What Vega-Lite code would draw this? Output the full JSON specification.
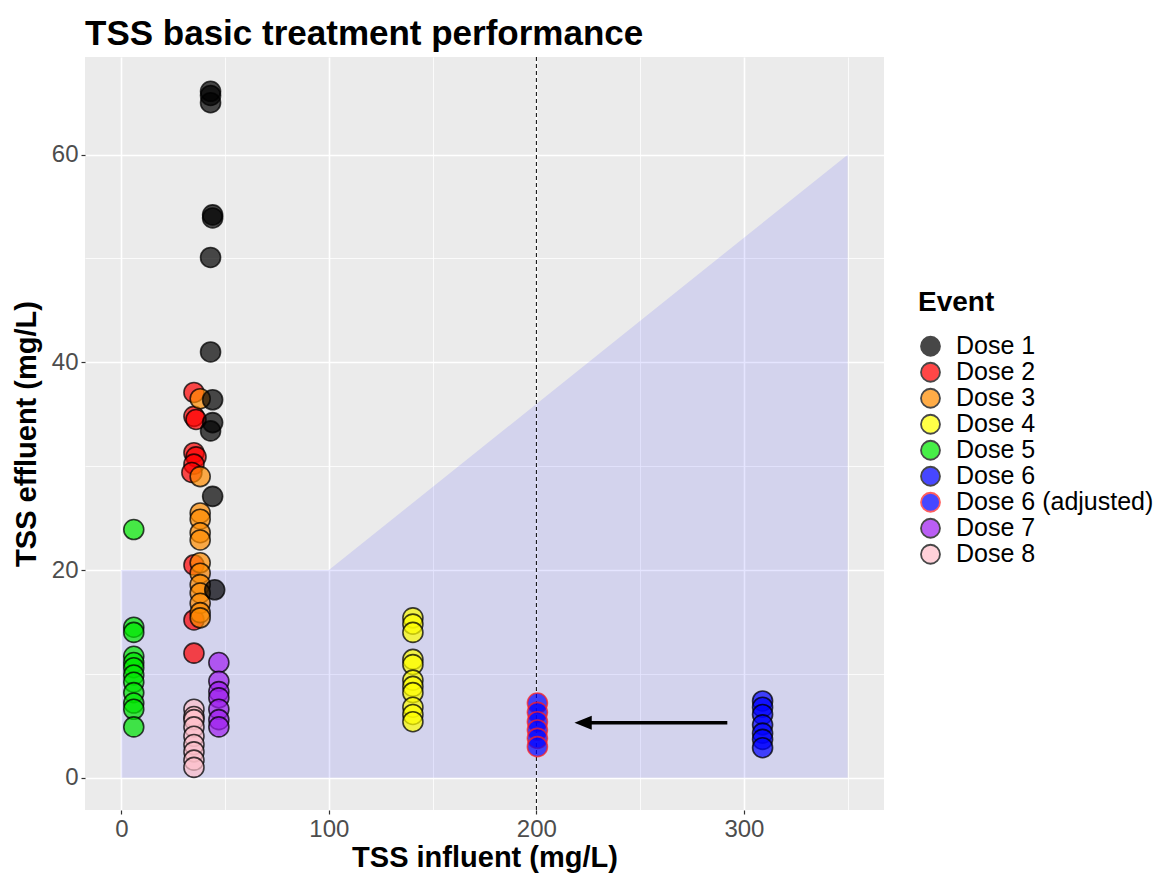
{
  "$schema": "https://vega.github.io/schema/vega-lite/v6.json",
  "autosize": {"type": "none"},
  "padding": {"left": 85, "top": 57, "right": 278, "bottom": 66},
  "width": 799,
  "height": 753,
  "background": "white",
  "title": {
    "text": "TSS basic treatment performance",
    "anchor": "start",
    "frame": "group",
    "font": "Liberation Sans",
    "fontSize": 35,
    "fontWeight": "bold",
    "color": "black",
    "offset": 5
  },
  "config": {
    "view": {"fill": "#EBEBEB", "stroke": null},
    "font": "Liberation Sans"
  },
  "datasets": {
    "region": [
      {"influent": 0, "upper": 20, "lower": 0},
      {"influent": 100, "upper": 20, "lower": 0},
      {"influent": 350, "upper": 60, "lower": 0}
    ],
    "samples": [
      {"Event": "Dose 2", "influent": 35, "effluent": 37.1},
      {"Event": "Dose 2", "influent": 35, "effluent": 34.8},
      {"Event": "Dose 2", "influent": 36, "effluent": 34.5},
      {"Event": "Dose 2", "influent": 35, "effluent": 31.3},
      {"Event": "Dose 2", "influent": 36, "effluent": 30.9},
      {"Event": "Dose 2", "influent": 35, "effluent": 30.2},
      {"Event": "Dose 2", "influent": 34, "effluent": 29.4},
      {"Event": "Dose 2", "influent": 35, "effluent": 20.5},
      {"Event": "Dose 2", "influent": 35, "effluent": 15.2},
      {"Event": "Dose 2", "influent": 35, "effluent": 12.0},
      {"Event": "Dose 3", "influent": 38, "effluent": 36.5},
      {"Event": "Dose 3", "influent": 38, "effluent": 29.0},
      {"Event": "Dose 3", "influent": 38, "effluent": 25.5},
      {"Event": "Dose 3", "influent": 38, "effluent": 24.9},
      {"Event": "Dose 3", "influent": 38, "effluent": 23.6},
      {"Event": "Dose 3", "influent": 38, "effluent": 22.9},
      {"Event": "Dose 3", "influent": 38, "effluent": 20.7},
      {"Event": "Dose 3", "influent": 38, "effluent": 19.7},
      {"Event": "Dose 3", "influent": 38, "effluent": 18.6},
      {"Event": "Dose 3", "influent": 38, "effluent": 17.8},
      {"Event": "Dose 3", "influent": 38, "effluent": 16.8},
      {"Event": "Dose 3", "influent": 38, "effluent": 15.9},
      {"Event": "Dose 3", "influent": 38, "effluent": 15.4},
      {"Event": "Dose 1", "influent": 43, "effluent": 66.1},
      {"Event": "Dose 1", "influent": 43, "effluent": 65.7},
      {"Event": "Dose 1", "influent": 43, "effluent": 65.0},
      {"Event": "Dose 1", "influent": 44, "effluent": 54.2},
      {"Event": "Dose 1", "influent": 44, "effluent": 53.9},
      {"Event": "Dose 1", "influent": 43, "effluent": 50.1},
      {"Event": "Dose 1", "influent": 43, "effluent": 41.0},
      {"Event": "Dose 1", "influent": 44, "effluent": 36.4},
      {"Event": "Dose 1", "influent": 44, "effluent": 34.2},
      {"Event": "Dose 1", "influent": 43, "effluent": 33.4},
      {"Event": "Dose 1", "influent": 44, "effluent": 27.1},
      {"Event": "Dose 1", "influent": 45, "effluent": 18.1},
      {"Event": "Dose 4", "influent": 140.5, "effluent": 15.4},
      {"Event": "Dose 4", "influent": 140.5, "effluent": 14.8},
      {"Event": "Dose 4", "influent": 140.5, "effluent": 14.0},
      {"Event": "Dose 4", "influent": 140.5, "effluent": 11.4},
      {"Event": "Dose 4", "influent": 140.5, "effluent": 10.9},
      {"Event": "Dose 4", "influent": 140.5, "effluent": 9.4},
      {"Event": "Dose 4", "influent": 140.5, "effluent": 8.8},
      {"Event": "Dose 4", "influent": 140.5, "effluent": 8.2},
      {"Event": "Dose 4", "influent": 140.5, "effluent": 6.8},
      {"Event": "Dose 4", "influent": 140.5, "effluent": 6.1},
      {"Event": "Dose 4", "influent": 140.5, "effluent": 5.4},
      {"Event": "Dose 5", "influent": 6, "effluent": 23.9},
      {"Event": "Dose 5", "influent": 6, "effluent": 14.5},
      {"Event": "Dose 5", "influent": 6, "effluent": 14.0},
      {"Event": "Dose 5", "influent": 6, "effluent": 11.7},
      {"Event": "Dose 5", "influent": 6, "effluent": 11.1},
      {"Event": "Dose 5", "influent": 6, "effluent": 10.6},
      {"Event": "Dose 5", "influent": 6, "effluent": 9.9},
      {"Event": "Dose 5", "influent": 6, "effluent": 9.2},
      {"Event": "Dose 5", "influent": 6, "effluent": 8.2},
      {"Event": "Dose 5", "influent": 6, "effluent": 7.2},
      {"Event": "Dose 5", "influent": 6, "effluent": 6.6},
      {"Event": "Dose 5", "influent": 6, "effluent": 4.9},
      {"Event": "Dose 6", "influent": 309, "effluent": 7.4},
      {"Event": "Dose 6", "influent": 309, "effluent": 6.8},
      {"Event": "Dose 6", "influent": 309, "effluent": 6.1},
      {"Event": "Dose 6", "influent": 309, "effluent": 5.1},
      {"Event": "Dose 6", "influent": 309, "effluent": 4.3},
      {"Event": "Dose 6", "influent": 309, "effluent": 3.7},
      {"Event": "Dose 6", "influent": 309, "effluent": 2.9},
      {"Event": "Dose 6 (adjusted)", "influent": 200.5, "effluent": 7.2},
      {"Event": "Dose 6 (adjusted)", "influent": 200.5, "effluent": 6.3},
      {"Event": "Dose 6 (adjusted)", "influent": 200.5, "effluent": 5.4},
      {"Event": "Dose 6 (adjusted)", "influent": 200.5, "effluent": 4.6},
      {"Event": "Dose 6 (adjusted)", "influent": 200.5, "effluent": 3.8},
      {"Event": "Dose 6 (adjusted)", "influent": 200.5, "effluent": 3.0},
      {"Event": "Dose 7", "influent": 47, "effluent": 11.1},
      {"Event": "Dose 7", "influent": 47, "effluent": 9.3},
      {"Event": "Dose 7", "influent": 47, "effluent": 8.3},
      {"Event": "Dose 7", "influent": 47, "effluent": 7.7},
      {"Event": "Dose 7", "influent": 47, "effluent": 6.6},
      {"Event": "Dose 7", "influent": 47, "effluent": 5.6},
      {"Event": "Dose 7", "influent": 47, "effluent": 4.9},
      {"Event": "Dose 8", "influent": 35, "effluent": 6.6},
      {"Event": "Dose 8", "influent": 35, "effluent": 5.9},
      {"Event": "Dose 8", "influent": 35, "effluent": 5.6},
      {"Event": "Dose 8", "influent": 35, "effluent": 4.9},
      {"Event": "Dose 8", "influent": 35, "effluent": 4.0},
      {"Event": "Dose 8", "influent": 35, "effluent": 3.2},
      {"Event": "Dose 8", "influent": 35, "effluent": 2.5},
      {"Event": "Dose 8", "influent": 35, "effluent": 1.7},
      {"Event": "Dose 8", "influent": 35, "effluent": 1.0}
    ],
    "threshold": [{"influent": 200}],
    "shift": [{"from": 292, "to": 221, "tip": 222.5, "level": 5.3}]
  },
  "encoding": {
    "x": {
      "type": "quantitative",
      "scale": {"domain": [-17.5, 367.5], "nice": false, "zero": false},
      "axis": {
        "title": "TSS influent (mg/L)",
        "values": [0, 50, 100, 150, 200, 250, 300, 350],
        "labelExpr": "datum.value % 100 === 0 ? datum.label : ''",
        "domain": false,
        "grid": true,
        "gridColor": "white",
        "gridWidth": {"condition": {"test": "datum.value % 100 === 0", "value": 1.6}, "value": 0.8},
        "tickColor": "#333333",
        "tickSize": 4,
        "tickWidth": 1.2,
        "tickOpacity": {"condition": {"test": "datum.value % 100 === 0", "value": 1}, "value": 0},
        "labelFont": "Liberation Sans",
        "labelFontSize": 24,
        "labelColor": "#4D4D4D",
        "labelPadding": 3,
        "titleFont": "Liberation Sans",
        "titleFontSize": 29,
        "titleFontWeight": "bold",
        "titleColor": "black",
        "titlePadding": 2
      }
    },
    "y": {
      "type": "quantitative",
      "scale": {"domain": [-3.1, 69.4], "nice": false, "zero": false},
      "axis": {
        "title": "TSS effluent (mg/L)",
        "values": [0, 10, 20, 30, 40, 50, 60],
        "labelExpr": "datum.value % 20 === 0 ? datum.label : ''",
        "domain": false,
        "grid": true,
        "gridColor": "white",
        "gridWidth": {"condition": {"test": "datum.value % 20 === 0", "value": 1.6}, "value": 0.8},
        "tickColor": "#333333",
        "tickSize": 4,
        "tickWidth": 1.2,
        "tickOpacity": {"condition": {"test": "datum.value % 20 === 0", "value": 1}, "value": 0},
        "labelFont": "Liberation Sans",
        "labelFontSize": 24,
        "labelColor": "#4D4D4D",
        "labelPadding": 3,
        "titleFont": "Liberation Sans",
        "titleFontSize": 29,
        "titleFontWeight": "bold",
        "titleColor": "black",
        "titlePadding": 10
      }
    }
  },
  "layer": [
    {
      "data": {"name": "region"},
      "mark": {"type": "area", "color": "#0000FF", "opacity": 0.1},
      "encoding": {
        "x": {"field": "influent"},
        "y": {"field": "upper"},
        "y2": {"field": "lower"}
      }
    },
    {
      "data": {"name": "threshold"},
      "mark": {"type": "rule", "color": "black", "strokeWidth": 1, "strokeDash": [4, 3]},
      "encoding": {"x": {"field": "influent"}}
    },
    {
      "data": {"name": "samples"},
      "mark": {"type": "point", "filled": true, "shape": "circle", "size": 400, "strokeWidth": 1.6, "fillOpacity": 0.7, "strokeOpacity": 0.75},
      "encoding": {
        "x": {"field": "influent"},
        "y": {"field": "effluent"},
        "fill": {
          "field": "Event",
          "type": "nominal",
          "scale": {
            "domain": ["Dose 1", "Dose 2", "Dose 3", "Dose 4", "Dose 5", "Dose 6", "Dose 6 (adjusted)", "Dose 7", "Dose 8"],
            "range": ["#000000", "#FF0000", "#FF8C00", "#FFFF00", "#00E800", "#0000FF", "#0000FF", "#A020F0", "#FFC0CB"]
          },
          "legend": {
            "title": "Event",
            "orient": "none",
            "legendX": 833,
            "legendY": 232,
            "titleFont": "Liberation Sans",
            "titleFontSize": 28,
            "titleFontWeight": "bold",
            "titleColor": "black",
            "titlePadding": 17,
            "labelFont": "Liberation Sans",
            "labelFontSize": 25,
            "labelColor": "black",
            "labelLimit": 400,
            "labelOffset": 13,
            "symbolSize": 360,
            "symbolStrokeWidth": 1.8,
            "symbolOpacity": 0.72,
            "clipHeight": 24.5,
            "rowPadding": 0
          }
        },
        "stroke": {
          "field": "Event",
          "type": "nominal",
          "scale": {
            "domain": ["Dose 1", "Dose 2", "Dose 3", "Dose 4", "Dose 5", "Dose 6", "Dose 6 (adjusted)", "Dose 7", "Dose 8"],
            "range": ["#000000", "#000000", "#000000", "#000000", "#000000", "#000000", "#FF2020", "#000000", "#000000"]
          },
          "legend": {"title": "Event"}
        }
      }
    },
    {
      "data": {"name": "shift"},
      "mark": {"type": "rule", "color": "black", "strokeWidth": 3.5},
      "encoding": {
        "x": {"field": "from"},
        "x2": {"field": "to"},
        "y": {"field": "level"}
      }
    },
    {
      "data": {"name": "shift"},
      "mark": {"type": "point", "filled": true, "color": "black", "opacity": 1, "size": 300, "shape": "M -1 0 L 1 -0.8 L 1 0.8 Z"},
      "encoding": {
        "x": {"field": "tip"},
        "y": {"field": "level"}
      }
    }
  ]
}
